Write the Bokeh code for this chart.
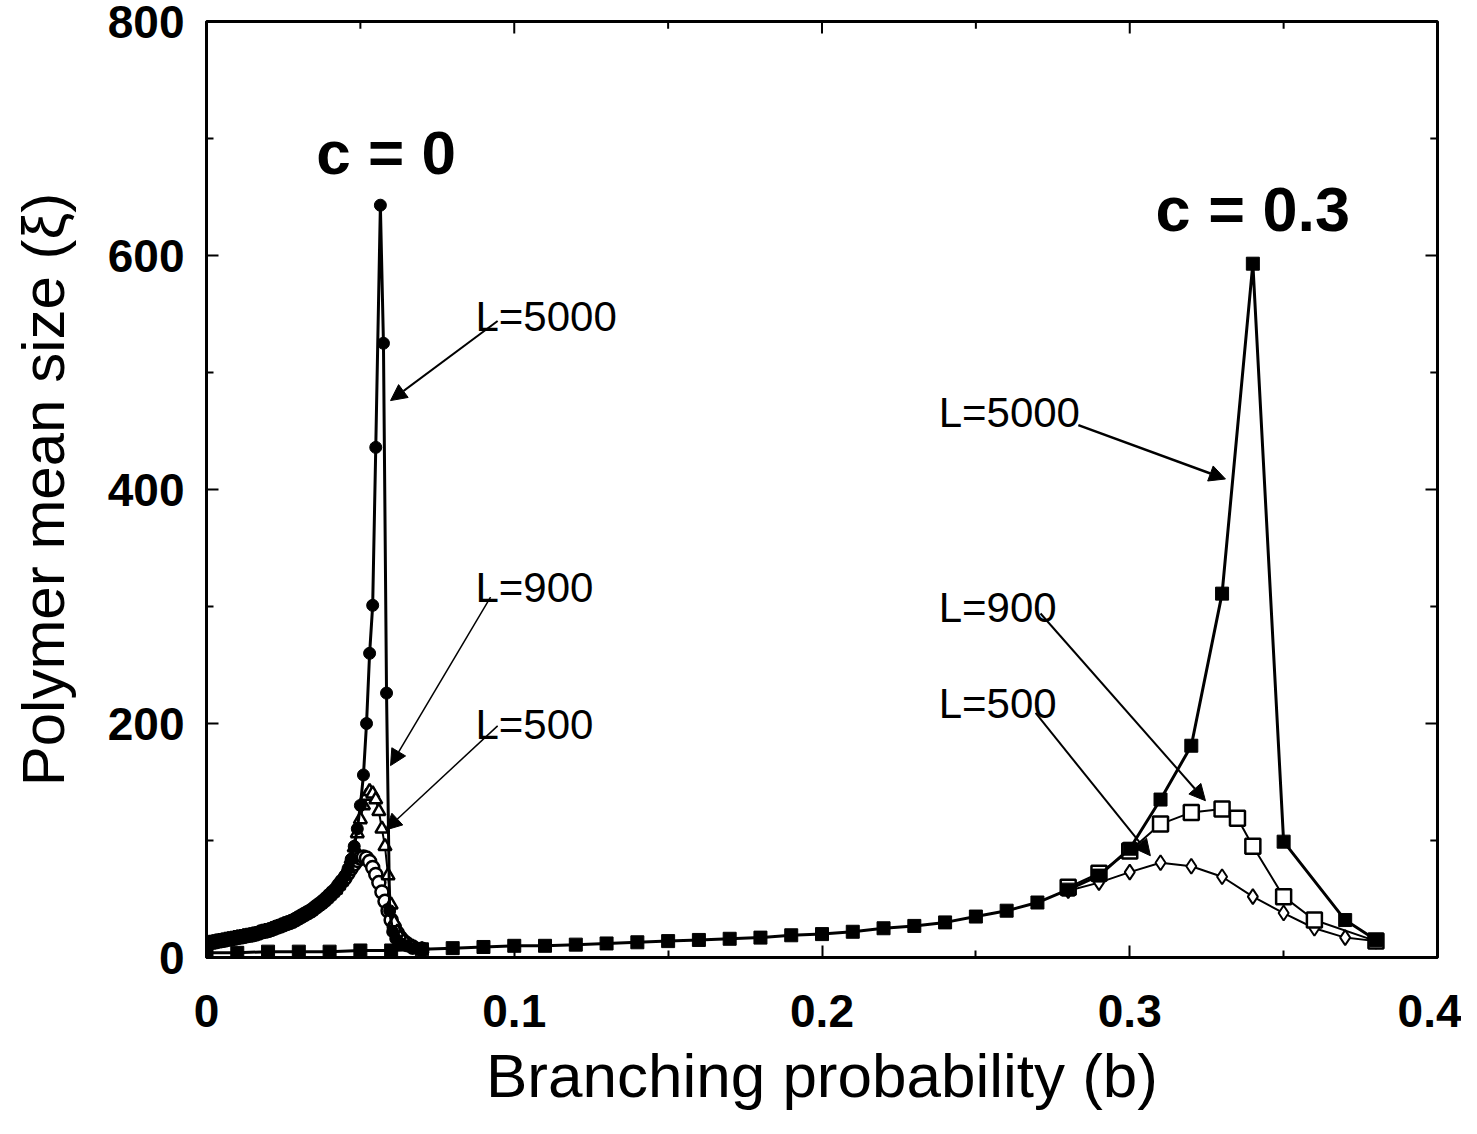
from bokeh.plotting import figure
from bokeh.models import Range1d, Label, Arrow, NormalHead, FixedTicker
from bokeh.embed import file_html
from bokeh.resources import INLINE

# ---------------- data ----------------
# c = 0 curves (dense sampling near the transition)
c0_rise_b = [0.000, 0.001, 0.002, 0.003, 0.004, 0.005, 0.006, 0.007, 0.008, 0.009,
             0.010, 0.011, 0.012, 0.013, 0.014, 0.015, 0.016, 0.017, 0.018, 0.019,
             0.020, 0.021, 0.022, 0.023, 0.024, 0.025, 0.026, 0.027, 0.028, 0.029,
             0.030, 0.031, 0.032, 0.033, 0.034, 0.035, 0.036, 0.037, 0.038, 0.039,
             0.040, 0.041, 0.042, 0.043, 0.044]
c0_rise = [12, 12.5, 13, 13.5, 14, 14.5, 15, 15.5, 16, 16.5,
           17, 17.5, 18, 18.5, 19, 19.5, 20, 21, 22, 22.5,
           23, 24, 25, 26, 27, 28, 29, 30, 31, 32.5,
           34, 35.5, 37, 38.5, 40, 42, 44, 46, 48, 50.5,
           53, 55.5, 58, 61.5, 65]

c0_tail_b = [0.045, 0.046, 0.047, 0.048, 0.049, 0.050, 0.051,
             0.052, 0.053, 0.054, 0.055, 0.056, 0.057, 0.058, 0.059, 0.060, 0.061,
             0.062, 0.063, 0.064, 0.065, 0.067, 0.070]
c0_L500_tail = [68, 72, 76, 80, 83, 85, 86,
                85, 82, 77, 71, 64, 56, 48, 40, 32, 26,
                21, 17, 14, 12, 9, 7]
c0_L900_tail = [70, 76, 84, 94, 106, 118, 130,
                138, 142, 140, 135, 125, 110, 95, 70, 45, 30,
                22, 17, 14, 12, 9, 7]

c0_tail_b5000 = [0.045, 0.046, 0.047, 0.048, 0.049, 0.050, 0.051,
                 0.052, 0.053, 0.054, 0.055, 0.0565, 0.0575, 0.0585, 0.0595, 0.0605,
                 0.0615, 0.063, 0.065, 0.067, 0.070]
c0_L5000_tail = [70, 76, 84, 95, 110, 130, 156,
                 200, 260, 301, 436, 643, 525, 226, 40, 22,
                 16, 12, 10, 8, 7]

# c = 0.3 curves
c3_b5000 = [0.00, 0.01, 0.02, 0.03, 0.04, 0.05, 0.06, 0.07, 0.08, 0.09,
            0.10, 0.11, 0.12, 0.13, 0.14, 0.15, 0.16, 0.17, 0.18, 0.19,
            0.20, 0.21, 0.22, 0.23, 0.24, 0.25, 0.26, 0.27, 0.28, 0.29,
            0.30, 0.31, 0.32, 0.33, 0.34, 0.35, 0.37, 0.38]
c3_L5000 = [4, 4, 5, 5, 5, 6, 6, 7, 8, 9,
            10, 10, 11, 12, 13, 14, 15, 16, 17, 19,
            20, 22, 25, 27, 30, 35, 40, 47, 58, 70,
            93, 135, 181, 311, 593, 99, 32, 15]

c3_b900 = [0.28, 0.29, 0.30, 0.31, 0.32, 0.33, 0.335, 0.34, 0.35, 0.36, 0.38]
c3_L900 = [60, 72, 91, 114, 124, 127, 119, 95, 52, 32, 14]

c3_b500 = [0.28, 0.29, 0.30, 0.31, 0.32, 0.33, 0.34, 0.35, 0.36, 0.37, 0.38]
c3_L500 = [57, 64, 73, 81, 78, 69, 52, 38, 25, 17, 14]

x_ticks = [0, 0.1, 0.2, 0.3, 0.4]
x_minor = [0.05, 0.15, 0.25, 0.35]
y_ticks = [0, 200, 400, 600, 800]
y_minor = [100, 300, 500, 700]

FONT = "Liberation Sans"

c0_b = c0_rise_b + c0_tail_b
c0_b5000 = c0_rise_b + c0_tail_b5000
c0_L500 = c0_rise + c0_L500_tail
c0_L900 = c0_rise + c0_L900_tail
c0_L5000 = c0_rise + c0_L5000_tail

X0, X1, Y0, Y1 = 0, 0.4, 0, 800
W, H = 1461, 1118
p = figure(width=W, height=H, output_backend="svg", toolbar_location=None,
           x_range=Range1d(X0, X1), y_range=Range1d(Y0, Y1),
           min_border_left=206, min_border_right=24, min_border_top=21,
           min_border_bottom=161)
p.grid.visible = False
p.outline_line_color = "black"
p.outline_line_width = 3
p.background_fill_color = "white"
p.border_fill_color = "white"

# axes
xa = p.xaxis[0]
xa.ticker = FixedTicker(ticks=x_ticks, minor_ticks=x_minor)
ya = p.yaxis[0]
ya.ticker = FixedTicker(ticks=y_ticks, minor_ticks=y_minor)
for ax in (xa, ya):
    ax.axis_line_width = 3
    ax.major_tick_in = 12
    ax.major_tick_out = 0
    ax.minor_tick_in = 7
    ax.minor_tick_out = 0
    ax.major_tick_line_width = 2
    ax.minor_tick_line_width = 2
    ax.major_label_text_font = FONT
    ax.major_label_text_font_style = "bold"
    ax.major_label_text_font_size = "46px"
    ax.major_label_text_color = "black"
    ax.axis_label_text_font = FONT
    ax.axis_label_text_font_style = "normal"
    ax.axis_label_text_color = "black"
xa.axis_label_text_font_size = "62px"
ya.axis_label_text_font_size = "60px"
xa.major_label_standoff = 37
ya.major_label_standoff = 22
xa.axis_label = "Branching probability (b)"
ya.axis_label = "Polymer mean size (ξ)"
xa.axis_label_standoff = 11
ya.axis_label_standoff = 28
ya.major_label_overrides = {0: "0", 200: "200", 400: "400", 600: "600", 800: "800"}
xa.major_label_overrides = {0: "0", 0.1: "0.1", 0.2: "0.2", 0.3: "0.3", 0.4: "0.4"}

# mirrored inward ticks on the right and top frame edges
tick_dx = 12 / 1231 * (X1 - X0)
tick_dy = 12 / 936 * (Y1 - Y0)
p.segment(x0=[X1] * len(y_ticks), y0=y_ticks, x1=[X1 - tick_dx] * len(y_ticks), y1=y_ticks,
          line_color="black", line_width=2)
p.segment(x0=[X1] * len(y_minor), y0=y_minor, x1=[X1 - tick_dx * 0.6] * len(y_minor), y1=y_minor,
          line_color="black", line_width=2)
p.segment(x0=x_ticks, y0=[Y1] * len(x_ticks), x1=x_ticks, y1=[Y1 - tick_dy] * len(x_ticks),
          line_color="black", line_width=2)
p.segment(x0=x_minor, y0=[Y1] * len(x_minor), x1=x_minor, y1=[Y1 - tick_dy * 0.6] * len(x_minor),
          line_color="black", line_width=2)

# ---- c = 0 series ----
p.line(c0_b, c0_L500, line_color="black", line_width=2)
p.scatter(c0_b, c0_L500, marker="circle", size=13, fill_color="white",
          line_color="black", line_width=2.5)
p.line(c0_b, c0_L900, line_color="black", line_width=2)
p.scatter(c0_b, c0_L900, marker="triangle", size=13, fill_color="white",
          line_color="black", line_width=2.5)
p.line(c0_b5000, c0_L5000, line_color="black", line_width=3)
p.scatter(c0_b5000, c0_L5000, marker="circle", size=12, fill_color="black",
          line_color="black")

# ---- c = 0.3 series ----
p.line(c3_b500, c3_L500, line_color="black", line_width=2)
p.scatter(c3_b500, c3_L500, marker="diamond", size=15, fill_color="white",
          line_color="black", line_width=2)
p.line(c3_b900, c3_L900, line_color="black", line_width=2)
p.scatter(c3_b900, c3_L900, marker="square", size=15, fill_color="white",
          line_color="black", line_width=2.5)
p.line(c3_b5000, c3_L5000, line_color="black", line_width=3)
p.scatter(c3_b5000, c3_L5000, marker="square", size=13, fill_color="black",
          line_color="black")

# ---- annotations ----
def lab(x, y, t, size, bold=False):
    p.add_layout(Label(x=x, y=y, text=t, text_font=FONT, text_font_size=size,
                       text_font_style="bold" if bold else "normal",
                       text_color="black", text_align="left",
                       text_baseline="alphabetic"))

lab(0.0357, 688, "c = 0", "62px", True)
lab(0.3084, 640, "c = 0.3", "63px", True)
lab(0.0874, 548, "L=5000", "42px")
lab(0.0874, 316, "L=900", "42px")
lab(0.0874, 199, "L=500", "42px")
lab(0.2379, 466, "L=5000", "42px")
lab(0.2379, 299, "L=900", "42px")
lab(0.2379, 217, "L=500", "42px")

def arr(x0, y0, x1, y1, w=2):
    p.add_layout(Arrow(end=NormalHead(size=16, fill_color="black", line_color="black"),
                       x_start=x0, y_start=y0, x_end=x1, y_end=y1,
                       line_color="black", line_width=w))

arr(0.0946, 544, 0.0598, 476)
arr(0.0923, 308, 0.0598, 164, 1.5)
arr(0.0946, 198, 0.0582, 109, 1.5)
arr(0.2833, 455, 0.3311, 409, 2.5)
arr(0.2710, 294, 0.3246, 134)
arr(0.2694, 209, 0.3067, 87)

open("out.html", "w").write(file_html(p, INLINE))
